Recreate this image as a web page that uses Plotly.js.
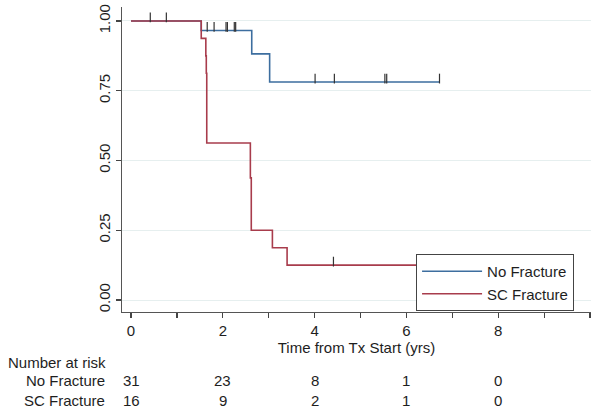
<!DOCTYPE html>
<html>
<head>
<meta charset="utf-8">
<script src="https://cdn.plot.ly/plotly-3.0.1.min.js"></script>
<style>
  html, body { margin: 0; padding: 0; background: #fff; }
  #chart { width: 604px; height: 414px; }
</style>
</head>
<body>
<div id="chart"></div>
<script>
// Kaplan-Meier steps
const noFracTimes = [0, 1.53, 2.63, 3.02, 6.72];
const noFracSurv = [1, 0.966, 0.882, 0.781, 0.781];
const scFracTimes = [0, 1.53, 1.63, 1.64, 1.65, 2.60, 2.62, 3.08, 3.40, 7.0];
const scFracSurv = [1, 0.9375, 0.875, 0.8125, 0.5625, 0.4375, 0.25, 0.1875, 0.125, 0.125];

// censored observations
const noFracCensor = [0.42, 0.77, 1.66, 1.81, 2.07, 2.10, 2.25, 2.28, 4.01, 4.43, 5.53, 5.57, 6.72];
const scFracCensor = [4.41];

// number at risk table
const riskTimes = [0, 2, 4, 6, 8];
const riskNoFrac = [31, 23, 8, 1, 0];
const riskScFrac = [16, 9, 2, 1, 0];

const blue = '#3d6e9f';
const red = '#a83c4c';
const font = 'Arial, "Liberation Sans", sans-serif';
const textColor = '#1e1e1e';
const fs = 15;

function survAt(times, surv, t) {
    let s = surv[0];
    for (let i = 0; i < times.length; i++) {
        if (times[i] <= t) s = surv[i];
    }
    return s;
}

// put the tick just above the curve
const tickLift = 0.0125;
const censorX = noFracCensor.concat(scFracCensor);
const censorY = noFracCensor.map(t => survAt(noFracTimes, noFracSurv, t) + tickLift)
    .concat(scFracCensor.map(t => survAt(scFracTimes, scFracSurv, t) + tickLift));

const traces = [
    {
        type: 'scatter', mode: 'lines', name: 'No Fracture',
        x: noFracTimes, y: noFracSurv,
        line: {shape: 'hv', color: blue, width: 1.6},
        legendgroup: 'a'
    },
    {
        type: 'scatter', mode: 'lines', name: 'SC Fracture',
        x: scFracTimes, y: scFracSurv,
        line: {shape: 'hv', color: red, width: 1.6},
        legendgroup: 'b'
    },
    {
        type: 'scatter', mode: 'markers', showlegend: false,
        x: censorX, y: censorY,
        marker: {symbol: 'line-ns', size: 7, line: {width: 1.2, color: '#333'}}
    }
];

// at-risk annotations
const annotations = [];
const rowY = [-0.167, -0.226, -0.289];
annotations.push({
    xref: 'paper', yref: 'paper', x: -0.247, y: rowY[0], xanchor: 'left', yanchor: 'middle',
    text: 'Number at risk', showarrow: false, font: {size: fs, color: textColor}
});
annotations.push({
    xref: 'paper', yref: 'paper', x: -0.031, y: rowY[1], xanchor: 'right', yanchor: 'middle',
    text: 'No Fracture', showarrow: false, font: {size: fs, color: textColor}
});
annotations.push({
    xref: 'paper', yref: 'paper', x: -0.031, y: rowY[2], xanchor: 'right', yanchor: 'middle',
    text: 'SC Fracture', showarrow: false, font: {size: fs, color: textColor}
});
for (let i = 0; i < riskTimes.length; i++) {
    annotations.push({
        xref: 'x', yref: 'paper', x: riskTimes[i], y: rowY[1], xanchor: 'center', yanchor: 'middle',
        text: String(riskNoFrac[i]), showarrow: false, font: {size: fs, color: textColor}
    });
    annotations.push({
        xref: 'x', yref: 'paper', x: riskTimes[i], y: rowY[2], xanchor: 'center', yanchor: 'middle',
        text: String(riskScFrac[i]), showarrow: false, font: {size: fs, color: textColor}
    });
}

const layout = {
    width: 604,
    height: 414,
    margin: {l: 122, r: 13, t: 7, b: 102},
    paper_bgcolor: '#fff',
    plot_bgcolor: '#fff',
    font: {family: font, size: fs, color: textColor},
    showlegend: true,
    legend: {
        x: 0.627, y: 0.19, xanchor: 'left', yanchor: 'top',
        bgcolor: '#fff', bordercolor: '#444', borderwidth: 1,
        font: {size: fs, color: textColor},
        itemwidth: 60, tracegroupgap: 0
    },
    xaxis: {
        range: [-0.196, 10.02],
        tickvals: [0, 1, 2, 3, 4, 5, 6, 7, 8, 9, 10],
        ticktext: ['0', '', '2', '', '4', '', '6', '', '8', '', ''],
        ticks: 'outside', ticklen: 5, tickcolor: '#444', tickwidth: 1.2,
        showline: true, linecolor: '#555', linewidth: 1.2,
        showgrid: false, zeroline: false,
        title: {text: 'Time from Tx Start (yrs)', standoff: 3, font: {size: fs}}
    },
    yaxis: {
        range: [-0.043, 1.05],
        tickvals: [0, 0.25, 0.5, 0.75, 1],
        ticktext: ['0.00', '0.25', '0.50', '0.75', '1.00'],
        tickangle: -90,
        ticks: 'outside', ticklen: 5, tickcolor: '#444', tickwidth: 1.2,
        showline: true, linecolor: '#555', linewidth: 1.2,
        showgrid: true, gridcolor: '#e6efef', gridwidth: 1,
        zeroline: false
    },
    annotations: annotations
};

Plotly.newPlot('chart', traces, layout, {displayModeBar: false, staticPlot: true});
</script>
</body>
</html>
